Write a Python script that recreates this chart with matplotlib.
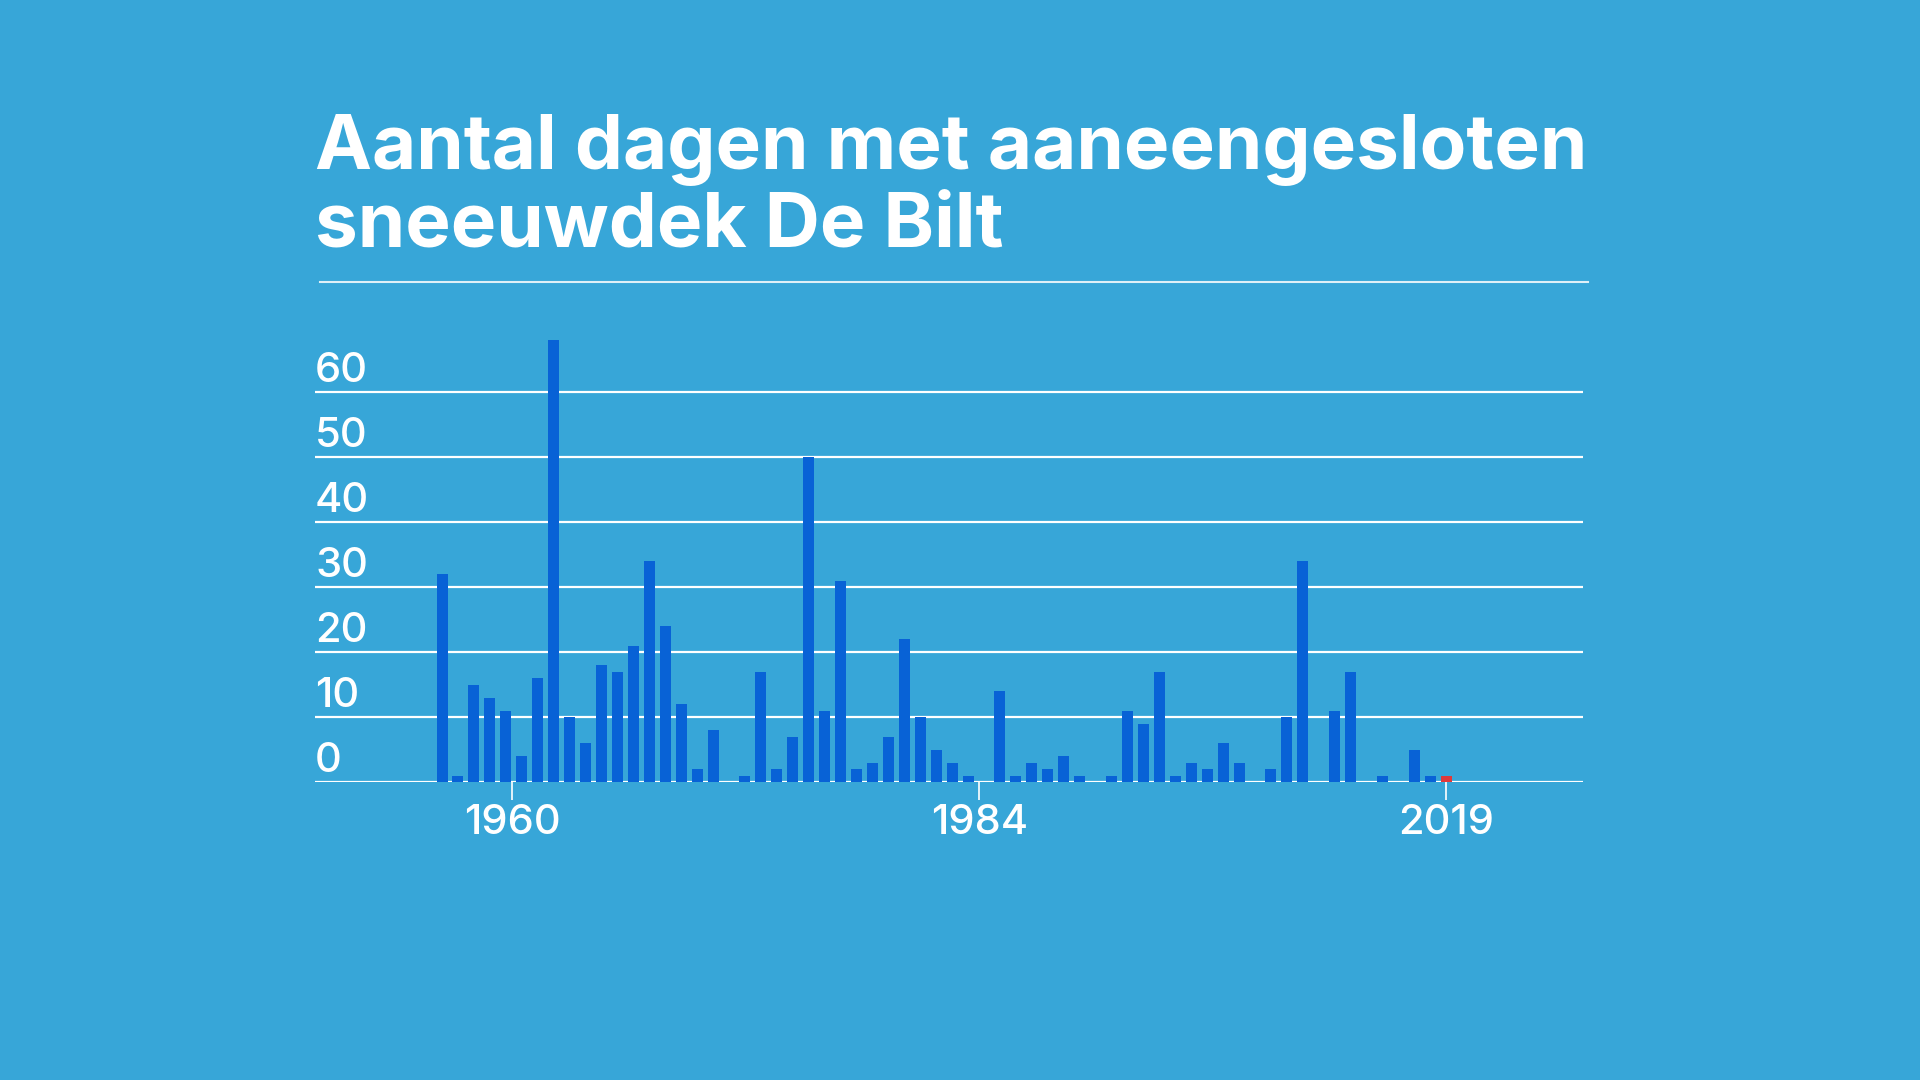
"""
Aantal dagen met aaneengesloten sneeuwdek, De Bilt
"""
import numpy as np
import matplotlib
matplotlib.use("Agg")
import matplotlib.pyplot as plt
from matplotlib.transforms import offset_copy

# winters (year of the bar) and number of days with continuous snow cover
years = list(range(1956, 2020))
days = [32, 1, 15, 13, 11, 4, 16, 68, 10, 6,
        18, 17, 21, 34, 24, 12, 2, 8, 0, 1,
        17, 2, 7, 50, 11, 31, 2, 3, 7, 22,
        10, 5, 3, 1, 0, 14, 1, 3, 2, 4,
        1, 0, 1, 11, 9, 17, 1, 3, 2, 6,
        3, 0, 2, 10, 34, 0, 11, 17, 0, 1,
        0, 5, 1, 1]
highlight_year = 2019

y_ticks = [0, 10, 20, 30, 40, 50, 60]
x_tick_pos = [1960.4, 1989.7, 2019.0]
x_tick_labels = ["1960", "1984", "2019"]

bg = "#37a6d8"
bar_col = "#0862d6"
red = "#e0393b"

plt.rcParams["font.family"] = ["Inter", "DejaVu Sans"]

fig = plt.figure(figsize=(19.2, 10.8), dpi=100, facecolor=bg)
ax = fig.add_axes([315 / 1920, 298 / 1080, (1582.7 - 315) / 1920, 455 / 1080])
ax.set_facecolor(bg)

cols = [red if y == highlight_year else bar_col for y in years]
ax.bar(years, days, width=0.69, color=cols, zorder=3)

ax.set_xlim(1948.03, 2027.56)
ax.set_ylim(0, 70)

for v in y_ticks:
    ax.axhline(v, color="white", lw=1.6, zorder=1)
    tr = offset_copy(ax.get_yaxis_transform(), fig=fig, x=0, y=10, units="dots")
    ax.text(0, v, str(v), transform=tr, ha="left", va="baseline",
            color="white", fontsize=30, fontweight="medium")

ax.set_yticks([])
ax.set_xticks(x_tick_pos)
ax.set_xticklabels(x_tick_labels, fontweight="medium")
ax.tick_params(axis="x", colors="white", length=13, width=1.2, pad=3,
               labelsize=30, labelcolor="white")
for s in ax.spines.values():
    s.set_visible(False)

# title and rule
fig.text(315 / 1920, 1 - 169 / 1080, "Aantal dagen met aaneengesloten",
         color="white", fontsize=55, fontweight="bold", va="baseline")
fig.text(315 / 1920, 1 - 246.7 / 1080, "sneeuwdek De Bilt",
         color="white", fontsize=55, fontweight="bold", va="baseline")
fig.add_artist(plt.Line2D([320 / 1920, 1588 / 1920], [1 - 282.3 / 1080] * 2,
                          color="#dff0f8", lw=1.5, transform=fig.transFigure))

fig.savefig("out.png", dpi=100, facecolor=bg)
